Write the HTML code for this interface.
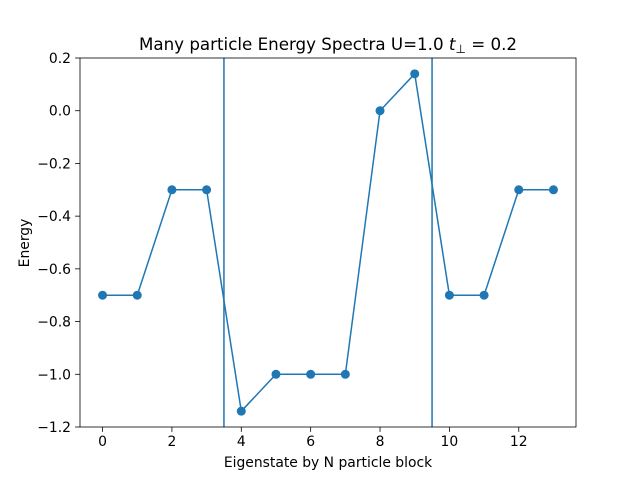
<!DOCTYPE html>
<html><head><meta charset="utf-8"><style>body{margin:0;background:#fff}svg{display:block}text{font-family:"DejaVu Sans","Liberation Sans",sans-serif}</style></head>
<body>
<svg id="chart" width="640" height="480">
<rect x="0" y="0" width="640" height="480" fill="#fff"/>
</svg>
<script>
const xValues=[0,1,2,3,4,5,6,7,8,9,10,11,12,13];
const energies=[-0.7,-0.7,-0.3,-0.3,-1.14,-1.0,-1.0,-1.0,0.0,0.14,-0.7,-0.7,-0.3,-0.3];
const vlines=[3.5,9.5];
const xTicks=[0,2,4,6,8,10,12];
const yTicks=[0.2,0.0,-0.2,-0.4,-0.6,-0.8,-1.0,-1.2];
const L=80,R=576,T=58,B=427,xmin=-0.65,xmax=13.65,ymin=-1.2,ymax=0.2;
const sx=v=>L+(v-xmin)/(xmax-xmin)*(R-L);
const sy=v=>B-(v-ymin)/(ymax-ymin)*(B-T);
const svg=document.getElementById('chart');const NS='http://www.w3.org/2000/svg';
function mk(t,a,p){const e=document.createElementNS(NS,t);for(const k in a)e.setAttribute(k,a[k]);(p||svg).appendChild(e);return e;}
const C='#1f77b4';
vlines.forEach(v=>{const l=mk('line',{x1:sx(v),x2:sx(v),y1:T,y2:B,stroke:C,'stroke-width':1.5});

});
const ln=mk('polyline',{points:xValues.map((x,i)=>sx(x)+','+sy(energies[i])).join(' '),fill:'none',stroke:C,'stroke-width':1.5});


xValues.forEach((x,i)=>{const c=mk('circle',{cx:sx(x),cy:sy(energies[i]),r:4.5,fill:C});

});
const fr=mk('rect',{x:L,y:T,width:R-L,height:B-T,fill:'none',stroke:'#000','stroke-width':0.8});


xTicks.forEach(v=>{mk('line',{x1:sx(v),x2:sx(v),y1:B,y2:B+4.9,stroke:'#000','stroke-width':0.8});
const t=mk('text',{x:sx(v),y:B+19,'text-anchor':'middle','font-size':13.9});t.textContent=v;

});
yTicks.forEach(v=>{mk('line',{x1:L-4.9,x2:L,y1:sy(v),y2:sy(v),stroke:'#000','stroke-width':0.8});
const t=mk('text',{x:L-9,y:sy(v)+5,'text-anchor':'end','font-size':13.9});t.textContent=(v<0?'\u2212':'')+Math.abs(v).toFixed(1);

});
</script>
<div style="position:absolute;left:0;top:0;width:640px;height:480px;pointer-events:none">
<svg width="640" height="480">
<text x="328" y="50" text-anchor="middle" font-size="16.7" font-family="DejaVu Sans, sans-serif">Many particle Energy Spectra U=1.0 <tspan font-style="italic">t</tspan><tspan font-size="12" dy="3">⊥</tspan><tspan dy="-3"> = 0.2</tspan></text>
<text x="328" y="467" text-anchor="middle" font-size="13.9" font-family="DejaVu Sans, sans-serif">Eigenstate by N particle block</text>
<text transform="translate(29,243) rotate(-90)" text-anchor="middle" font-size="13.9" font-family="DejaVu Sans, sans-serif">Energy</text>
</svg></div>
</body></html>
